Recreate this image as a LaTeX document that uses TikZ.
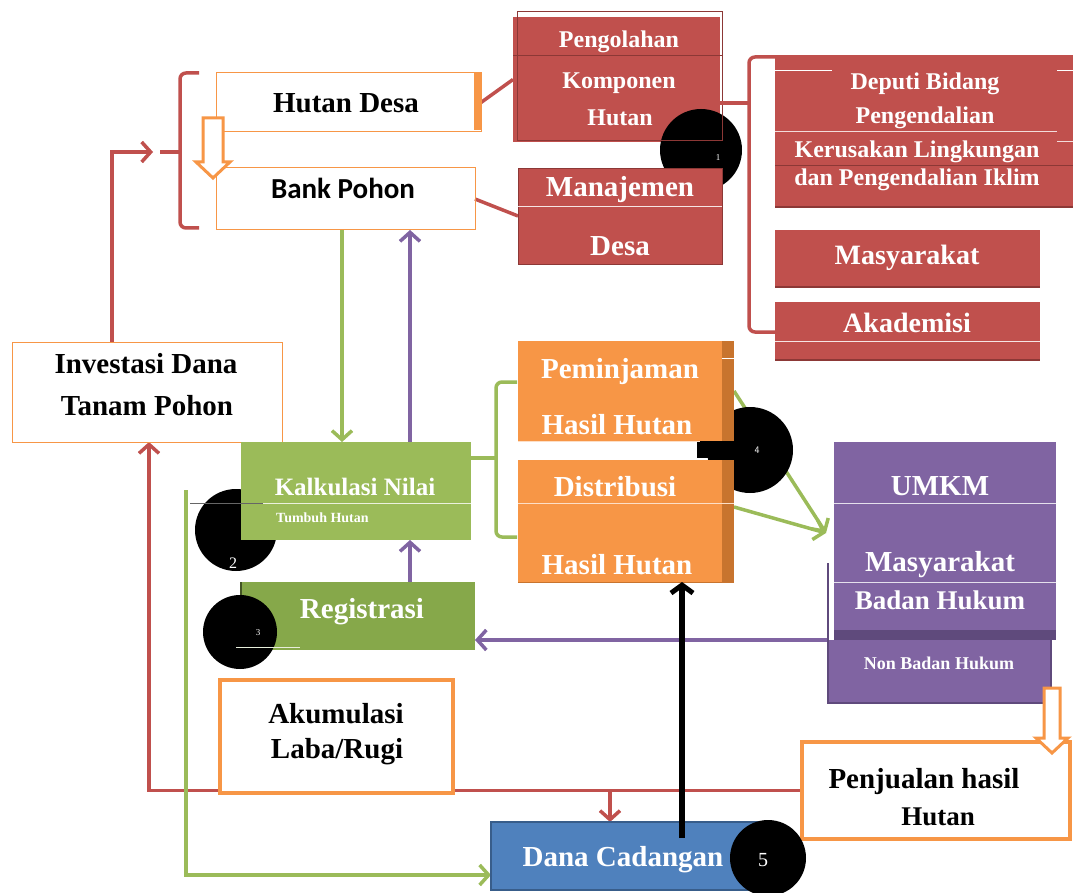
\documentclass[tikz,border=0pt]{standalone}
\usepackage{fontspec}
\setmainfont{Liberation Serif}
\newfontfamily\calib{Carlito}
\usetikzlibrary{arrows.meta,calc}
\pgfdeclarelayer{background}
\pgfdeclarelayer{foreground}
\pgfsetlayers{background,main,foreground}
\definecolor{cred}{HTML}{C0504D}
\definecolor{cdred}{HTML}{8C3836}
\definecolor{cgreen}{HTML}{9BBB59}
\definecolor{cgreen2}{HTML}{86A84A}
\definecolor{corange}{HTML}{F79646}
\definecolor{cdorange}{HTML}{C8742E}
\definecolor{cpurple}{HTML}{8064A2}
\definecolor{cdpurple}{HTML}{5F4A7C}
\definecolor{cblue}{HTML}{4F81BD}
\definecolor{cdblue}{HTML}{385D8A}
\tikzset{
  box/.style={rectangle, inner sep=0pt, outer sep=0pt, anchor=north west},
  fs/.style={font=\bfseries\fontsize{#1}{#1}\selectfont},
  wt/.style={text=white, inner sep=0pt, fs=#1},
  bt/.style={text=black, inner sep=0pt, fs=#1},
  dot/.style={circle, fill=black, inner sep=0pt, minimum size=#1},
  conn/.style={line width=3.5pt},
  tip/.style={-{Straight Barb[length=9pt,width=20pt,line width=3.5pt]}},
  hollow/.style={draw=corange, line width=3pt, fill=white, line join=miter},
  brk/.style={line width=3.5pt, rounded corners=6pt},
}
\begin{document}
\begin{tikzpicture}[x=1pt,y=-1pt]
\useasboundingbox (0,0) rectangle (1073,893);
\begin{pgfonlayer}{background}
\fill[white] (0,0) rectangle (1073,893);
\end{pgfonlayer}

\coordinate (ra) at (153,152);
\coordinate (g0) at (186,490);
\coordinate (bk) at (682,838);

% ---------- top left ----------
\node[box, draw=corange, line width=1pt, minimum width=265pt, minimum height=59pt] (hutan) at (216,73) {};
\fill[corange] (474,73) rectangle (481,130);
\node[box, draw=corange, line width=1pt, minimum width=259pt, minimum height=62pt] (bank) at (216,168) {};
\node[bt=29] (thutan) at (346,103) {Hutan Desa};
\node[inner sep=0pt, font=\calib\bfseries\fontsize{29}{29}\selectfont] (tbank) at (343,188) {Bank Pohon};
\draw[brk, cred] (199,73) -- (180,73) -- (180,228) -- (199,228);
\draw[line width=3.5pt, cred] (180,152) -- (160,152);
\draw[hollow] (203,118) -- (223,118) -- (223,162) -- (230,162) -- (213,178) -- (196,162) -- (203,162) -- cycle;

% ---------- red boxes ----------
\node[box, fill=cred, minimum width=207pt, minimum height=125pt] (peng) at (513,17) {};
\draw[cdred, line width=0.8pt] (513,55) -- (722,55);
\node[dot=82pt] (c1) at (701,150) {};
\draw[cdred, line width=1pt] (517,12) rectangle (722,141);
\node[text=white, inner sep=0pt, font=\fontsize{9}{9}\selectfont] (n1) at (718,158) {1};
\node[wt=24] (tpeng1) at (619,42) {Pengolahan};
\node[wt=24] (tpeng2) at (619,83) {Komponen};
\node[wt=24] (tpeng3) at (620,118) {Hutan};
\node[box, fill=cred, draw=cdred, line width=0.8pt, minimum width=204pt, minimum height=96pt] (manaj) at (518,168) {};
\draw[white!85!cred, line width=1pt] (518,207) -- (722,207);
\node[wt=29] (tman1) at (620,190) {Manajemen};
\node[wt=29] (tman2) at (620,246) {Desa};

\node[box, fill=cred, minimum width=298pt, minimum height=153pt] (deputi) at (775,55) {};
\draw[white, line width=1pt] (775,71) -- (832,71) (1057,71) -- (1073,71);
\draw[white!80!cred, line width=1pt] (775,132) -- (1057,132);
\draw[white!80!cred, line width=1pt] (1057,142) -- (1073,142);
\draw[cdred, line width=1pt] (775,166) -- (1073,166);
\draw[cdred, line width=1.2pt] (775,207) -- (1073,207);
\node[wt=24] (tdep1) at (925,84) {Deputi Bidang};
\node[wt=24] (tdep2) at (925,118) {Pengendalian};
\node[wt=24] (tdep3) at (917,152) {Kerusakan Lingkungan};
\node[wt=24] (tdep4) at (917,180) {dan Pengendalian Iklim};
\node[box, fill=cred, minimum width=265pt, minimum height=57pt] (masy) at (775,230) {};
\draw[cdred, line width=1.2pt] (775,287) -- (1040,287);
\node[wt=28] (tmasy) at (907,258) {Masyarakat};
\node[box, fill=cred, minimum width=265pt, minimum height=58pt] (akad) at (775,302) {};
\draw[white!85!cred, line width=1pt] (775,341) -- (1040,341);
\draw[cdred, line width=1.2pt] (775,360) -- (1040,360);
\node[wt=28] (takad) at (907,323) {Akademisi};
\draw[brk, cred] (775,57) -- (749,57) -- (749,332) -- (775,332);
\draw[line width=3.5pt, cred] (peng.east |- 0,103) -- (749,103);

% ---------- left column ----------
\node[box, draw=corange, line width=1pt, fill=white, minimum width=270pt, minimum height=100pt] (invest) at (12,342) {};
\node[bt=29] (tinv1) at (146,364) {Investasi Dana};
\node[bt=29] (tinv2) at (147,406) {Tanam Pohon};

% ---------- green boxes ----------
\node[dot=82pt] (c2) at (236,530) {};
\node[text=white, inner sep=0pt, font=\fontsize{16}{16}\selectfont] (n2) at (233,563) {2};
\node[box, fill=cgreen, minimum width=230pt, minimum height=98pt] (kalk) at (241,442) {};
\draw[white!80!cgreen, line width=1pt] (263,503) -- (471,503);
\draw[black!60, line width=1pt] (190,503) -- (263,503);
\node[wt=25] (tkalk) at (355,487) {Kalkulasi Nilai};
\node[wt=14, anchor=west] (ttumb) at (276,518) {Tumbuh Hutan};
\node[box, fill=cgreen2, minimum width=234pt, minimum height=68pt] (regis) at (241,582) {};
\draw[black!50!cgreen2, line width=2pt] (241,582) -- (241,600);
\node[wt=29] (tregis) at (362,612) {Registrasi};
\node[dot=74pt] (c3) at (240,632) {};
\draw[white!80!cgreen2, line width=1pt] (236,647) -- (300,647);
\node[text=white, inner sep=0pt, font=\fontsize{9}{9}\selectfont] (n3) at (258,633) {3};
\draw[brk, cgreen] (517,382) -- (496,382) -- (496,537) -- (517,537);
\draw[line width=3.5pt, cgreen] (kalk.east |- 0,458) -- (496,458);

% ---------- orange boxes ----------
\node[dot=86pt] (c4) at (750,450) {};
\fill[black] (697,440) rectangle (735,458);
\node[box, fill=corange, minimum width=216pt, minimum height=100pt] (pemin) at (518,341) {};
\fill[cdorange] (722,341) rectangle (734,441);
\draw[white, line width=1pt] (722,358) -- (734,358);
\draw[white!70!corange, line width=1pt] (518,441) -- (700,441);
\node[wt=29] (tpem1) at (620,372) {Peminjaman};
\node[wt=29] (tpem2) at (617,425) {Hasil Hutan};
\node[box, fill=corange, minimum width=216pt, minimum height=122pt] (distr) at (518,460) {};
\fill[cdorange] (722,460) rectangle (734,582);
\draw[white!70!corange, line width=1pt] (518,503) -- (734,503);
\draw[cdorange, line width=1pt] (518,582) -- (734,582);
\node[wt=29] (tdis1) at (615,487) {Distribusi};
\node[wt=29] (tdis2) at (617,565) {Hasil Hutan};
\node[text=white, inner sep=0pt, font=\sffamily\fontsize{10}{10}\selectfont] (n4) at (757,450) {4};

% ---------- purple boxes ----------
\node[box, fill=cpurple, minimum width=222pt, minimum height=198pt] (umkm) at (834,442) {};
\draw[white!80!cpurple, line width=1pt] (834,503) -- (1056,503);
\draw[white!80!cpurple, line width=1pt] (834,582) -- (1056,582);
\fill[cdpurple] (834,630) rectangle (1056,640);
\node[box, fill=cpurple, minimum width=223pt, minimum height=63pt] (nonbh) at (828,640) {};
\draw[cdpurple, line width=2pt] (828,563) -- (828,703) -- (1051,703) -- (1051,640);
\node[wt=29] (tumkm) at (940,486) {UMKM};
\node[wt=29] (tumas) at (940,565) {Masyarakat};
\node[wt=27] (tbh) at (940,600) {Badan Hukum};
\node[wt=18] (tnbh) at (939,663) {Non Badan Hukum};

% ---------- bottom ----------
\node[box, draw=corange, line width=4pt, fill=white, minimum width=233pt, minimum height=113pt] (akum) at (220,680) {};
\node[bt=29] (takum1) at (336,714) {Akumulasi};
\node[bt=29] (takum2) at (337,752) {Laba/Rugi};
\node[box, draw=corange, line width=4pt, fill=white, minimum width=268pt, minimum height=97pt] (penj) at (802,742) {};
\node[bt=29] (tpenj1) at (924,782) {Penjualan hasil};
\node[bt=27] (tpenj2) at (938,817) {Hutan};
\node[box, fill=cblue, draw=cdblue, line width=2pt, minimum width=268pt, minimum height=68pt] (dana) at (491,822) {};
\node[wt=29] (tdana) at (623,860) {Dana Cadangan};
\node[dot=76pt] (c5) at (768,858) {};
\node[text=white, inner sep=0pt, font=\fontsize{20}{20}\selectfont] (n5) at (763,860) {5};
\draw[hollow] (1044,688) -- (1060,688) -- (1060,738) -- (1068,738) -- (1052,753) -- (1036,738) -- (1044,738) -- cycle;

% ---------- connectors ----------
\begin{pgfonlayer}{background}
\draw[conn, cred] (hutan.east) -- (peng.west);
\draw[conn, cred] (bank.east) -- (manaj.west);
\draw[conn, cred, tip] (112,0 |- invest.north) |- (ra);
\draw[conn, cred, tip] (penj.west) -| (149,0 |- invest.south);
\draw[conn, cred, tip] (610,0 |- penj.west) -- (610,0 |- dana.north);
\draw[conn, cgreen, tip] (342,0 |- bank.south) -- (342,0 |- kalk.north);
\draw[conn, cpurple, tip] (410,0 |- kalk.north) -- (410,0 |- bank.south);
\draw[conn, cpurple, tip] (410,0 |- regis.north) -- (410,0 |- kalk.south);
\draw[conn, cgreen, tip] (g0) |- ($(dana.south west)+(0,-15)$);
\draw[conn, cpurple, tip] (nonbh.north west) -- (regis.east |- nonbh.north west);
\draw[conn, cgreen, tip] (pemin.east) -- ($(umkm.west)+(-8,-8)$);
\draw[conn, cgreen, tip] ($(distr.north east)+(0,47)$) -- ($(umkm.west)+(-8,-8)$);
\end{pgfonlayer}
\begin{pgfonlayer}{foreground}
\draw[line width=6pt, black, -{Straight Barb[length=8pt,width=22pt,line width=5pt]}] (bk) -- (682,0 |- distr.south);
\end{pgfonlayer}
\end{tikzpicture}
\end{document}
